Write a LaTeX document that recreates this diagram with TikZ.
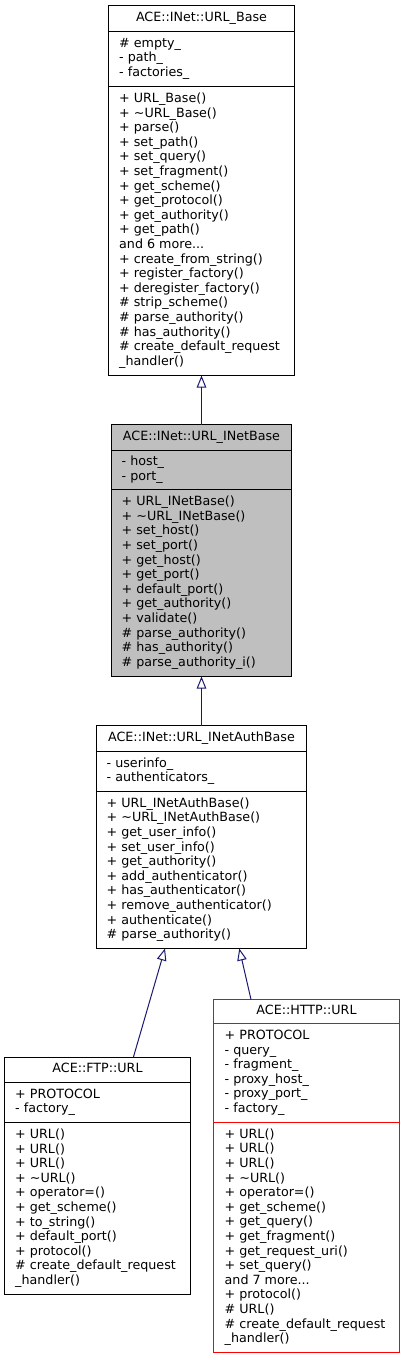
\documentclass[tikz,border=0pt]{standalone}
\usepackage{fontspec}
\setmainfont{DejaVu Sans}
\usetikzlibrary{arrows.meta,calc}
\definecolor{edgeblue}{HTML}{191970}
\definecolor{greyfill}{HTML}{BFBFBF}
\definecolor{ured}{HTML}{FF0000}
\newcommand\cfont{\fontsize{12.7}{14.6}\selectfont}
\begin{document}
\begin{tikzpicture}[x=1pt,y=-1pt,
  cls/.style={draw=black, line width=1pt, rectangle, inner sep=0pt, outer sep=0pt, anchor=north west},
  redcls/.style={draw=ured, line width=1pt, rectangle, inner sep=0pt, outer sep=0pt, anchor=north west},
  sepline/.style={draw=black, line width=1pt},
  redline/.style={draw=ured, line width=1pt},
  ttl/.style={inner sep=0pt, font=\cfont, anchor=center},
  mem/.style={inner sep=0pt, font=\cfont, align=left, anchor=west},
  inh/.style={draw=edgeblue, line width=1pt, -{Triangle[open, length=12pt, width=9.5pt]}}
]
\useasboundingbox (0,0) rectangle (404,1360);

% ---------- URL_Base ----------
\node[cls, minimum width=186pt, minimum height=370pt] (b1) at (108.5,5.5) {};
\draw[sepline] ($(b1.north west)+(0,26)$) -- ($(b1.north east)+(0,26)$);
\draw[sepline] ($(b1.north west)+(0,81)$) -- ($(b1.north east)+(0,81)$);
\node[ttl] (b1t) at (201.5,18.6) {\strut ACE::INet::URL\_Base};
\node[mem] (b1a) at (119,59) {\strut\# empty\_\\\strut- path\_\\\strut- factories\_};
\node[mem] (b1m) at (119,231) {\strut+ URL\_Base()\\\strut+ \textasciitilde URL\_Base()\\\strut+ parse()\\\strut+ set\_path()\\\strut+ set\_query()\\\strut+ set\_fragment()\\\strut+ get\_scheme()\\\strut+ get\_protocol()\\\strut+ get\_authority()\\\strut+ get\_path()\\\strut and 6 more...\\\strut+ create\_from\_string()\\\strut+ register\_factory()\\\strut+ deregister\_factory()\\\strut\# strip\_scheme()\\\strut\# parse\_authority()\\\strut\# has\_authority()\\\strut\# create\_default\_request\\\strut\_handler()};

% ---------- URL_INetBase ----------
\node[cls, fill=greyfill, minimum width=180pt, minimum height=252pt] (b2) at (111.5,424.5) {};
\draw[sepline] ($(b2.north west)+(0,26)$) -- ($(b2.north east)+(0,26)$);
\draw[sepline] ($(b2.north west)+(0,65)$) -- ($(b2.north east)+(0,65)$);
\node[ttl] (b2t) at (201.5,437.3) {\strut ACE::INet::URL\_INetBase};
\node[mem] (b2a) at (121.5,470) {\strut- host\_\\\strut- port\_};
\node[mem] (b2m) at (121.5,583) {\strut+ URL\_INetBase()\\\strut+ \textasciitilde URL\_INetBase()\\\strut+ set\_host()\\\strut+ set\_port()\\\strut+ get\_host()\\\strut+ get\_port()\\\strut+ default\_port()\\\strut+ get\_authority()\\\strut+ validate()\\\strut\# parse\_authority()\\\strut\# has\_authority()\\\strut\# parse\_authority\_i()};

% ---------- URL_INetAuthBase ----------
\node[cls, minimum width=210pt, minimum height=223pt] (b3) at (96.5,725.5) {};
\draw[sepline] ($(b3.north west)+(0,26)$) -- ($(b3.north east)+(0,26)$);
\draw[sepline] ($(b3.north west)+(0,66)$) -- ($(b3.north east)+(0,66)$);
\node[ttl] (b3t) at (201.5,738.4) {\strut ACE::INet::URL\_INetAuthBase};
\node[mem] (b3a) at (106.5,771.5) {\strut- userinfo\_\\\strut- authenticators\_};
\node[mem] (b3m) at (106.5,870) {\strut+ URL\_INetAuthBase()\\\strut+ \textasciitilde URL\_INetAuthBase()\\\strut+ get\_user\_info()\\\strut+ set\_user\_info()\\\strut+ get\_authority()\\\strut+ add\_authenticator()\\\strut+ has\_authenticator()\\\strut+ remove\_authenticator()\\\strut+ authenticate()\\\strut\# parse\_authority()};

% ---------- FTP::URL ----------
\node[cls, minimum width=186pt, minimum height=237pt] (b4) at (4.5,1057.5) {};
\draw[sepline] ($(b4.north west)+(0,25)$) -- ($(b4.north east)+(0,25)$);
\draw[sepline] ($(b4.north west)+(0,65)$) -- ($(b4.north east)+(0,65)$);
\node[ttl] (b4t) at (97.5,1070) {\strut ACE::FTP::URL};
\node[mem] (b4a) at (15,1102.5) {\strut+ PROTOCOL\\\strut- factory\_};
\node[mem] (b4m) at (15,1208.5) {\strut+ URL()\\\strut+ URL()\\\strut+ URL()\\\strut+ \textasciitilde URL()\\\strut+ operator=()\\\strut+ get\_scheme()\\\strut+ to\_string()\\\strut+ default\_port()\\\strut+ protocol()\\\strut\# create\_default\_request\\\strut\_handler()};

% ---------- HTTP::URL ----------
\node[redcls, minimum width=186pt, minimum height=353pt] (b5) at (213.5,999.5) {};
\node[ttl] (b5t) at (306.5,1011.5) {\strut ACE::HTTP::URL};
\node[mem] (b5a) at (224.5,1073) {\strut+ PROTOCOL\\\strut- query\_\\\strut- fragment\_\\\strut- proxy\_host\_\\\strut- proxy\_port\_\\\strut- factory\_};
\node[mem] (b5m) at (224.5,1237.5) {\strut+ URL()\\\strut+ URL()\\\strut+ URL()\\\strut+ \textasciitilde URL()\\\strut+ operator=()\\\strut+ get\_scheme()\\\strut+ get\_query()\\\strut+ get\_fragment()\\\strut+ get\_request\_uri()\\\strut+ set\_query()\\\strut and 7 more...\\\strut+ protocol()\\\strut\# URL()\\\strut\# create\_default\_request\\\strut\_handler()};
\draw[redline] (b5.north west) rectangle (b5.south east);
\draw[redline] ($(b5.north west)+(0,24)$) -- ($(b5.north east)+(0,24)$);
\draw[redline] ($(b5.north west)+(0,123)$) -- ($(b5.north east)+(0,123)$);

% ---------- inheritance connectors ----------
\draw[inh] (b2.north) -- (b2.north |- b1.south);
\draw[inh] (b3.north) -- (b3.north |- b2.south);
\coordinate (f4) at ($(b4.north west)+(128.8,0)$);
\coordinate (f3) at ($(b3.south west)+(68.5,0)$);
\draw[inh] (f4) -- (f3);
\coordinate (h5) at ($(b5.north west)+(37.5,0)$);
\coordinate (h3) at ($(b3.south west)+(142.8,0)$);
\draw[inh] (h5) -- (h3);
\end{tikzpicture}
\end{document}
